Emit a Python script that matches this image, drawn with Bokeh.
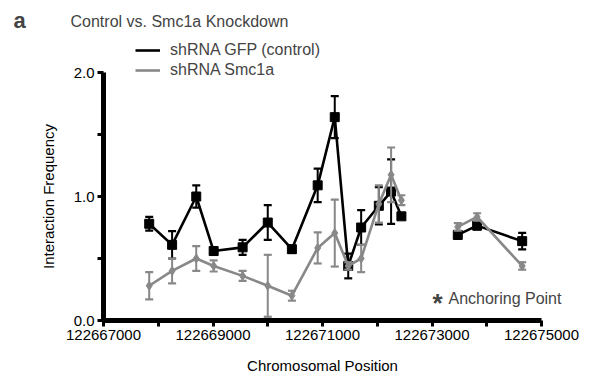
from bokeh.plotting import figure
from bokeh.models import Range1d, FixedTicker, Legend, LegendItem, Label
from bokeh.embed import file_html
from bokeh.resources import INLINE

# ---- data ----
positions = [122667835, 122668253, 122668694, 122669012, 122669541, 122670000,
             122670441, 122670912, 122671224, 122671470, 122671706, 122672029,
             122672253, 122672441, 122673471, 122673824, 122674647]
segment = [1, 1, 1, 1, 1, 1, 1, 1, 1, 1, 1, 1, 1, 1, 2, 2, 2]
gfp_mean = [0.78, 0.61, 1.00, 0.56, 0.59, 0.79, 0.575, 1.09, 1.64, 0.44,
            0.75, 0.925, 1.04, 0.84, 0.69, 0.765, 0.64]
gfp_err = [0.055, 0.11, 0.09, 0.03, 0.06, 0.14, 0.03, 0.135, 0.17, 0.10,
           0.14, 0.15, 0.26, 0.0, 0.03, 0.03, 0.067]
smc_mean = [0.28, 0.40, 0.50, 0.44, 0.36, 0.28, 0.20, 0.585, 0.705, 0.44,
            0.50, 0.94, 1.175, 0.97, 0.755, 0.835, 0.44]
smc_err = [0.11, 0.10, 0.10, 0.045, 0.04, 0.25, 0.04, 0.125, 0.27, 0.03,
           0.11, 0.15, 0.22, 0.04, 0.03, 0.03, 0.03]
anchor_position = [122672870]
anchor_value = [0.0]

x_ticks = [122667000, 122668000, 122669000, 122670000, 122671000,
           122672000, 122673000, 122674000, 122675000]
x_tick_labels = ["122667000", "", "122669000", "", "122671000", "",
                 "122673000", "", "122675000"]
y_ticks = [0.0, 0.5, 1.0, 1.5, 2.0]
y_tick_labels = ["0.0", "", "1.0", "", "2.0"]

FONT = "Liberation Sans"
BLACK = "#000000"
GRAY = "#888888"

# ---- layout: plot frame fills the canvas, axes are pinned inside it ----
W, H = 603, 378
AX_LEFT, AX_RIGHT, AX_TOP, AX_BOTTOM = 103, 541, 72, 320  # pixel box of the axes
x0, x1 = x_ticks[0], x_ticks[-1]
y0, y1 = y_ticks[0], y_ticks[-1]
sx = (AX_RIGHT - AX_LEFT) / (x1 - x0)
sy = (AX_BOTTOM - AX_TOP) / (y1 - y0)
xr = Range1d(x0 - AX_LEFT / sx, x1 + (W - AX_RIGHT) / sx)
yr = Range1d(y0 - (H - AX_BOTTOM) / sy, y1 + AX_TOP / sy)

p = figure(width=W, height=H, output_backend="svg", toolbar_location=None,
           x_range=xr, y_range=yr, min_border=0)
p.outline_line_color = None
p.xgrid.visible = False
p.ygrid.visible = False
p.background_fill_color = "white"


def draw_series(mean, err, color, marker, msize, lw):
    lo = [m - e for m, e in zip(mean, err)]
    hi = [m + e for m, e in zip(mean, err)]
    p.segment(positions, lo, positions, hi, line_color=color, line_width=2)
    p.scatter(positions, lo, marker="dash", size=8, line_color=color, line_width=2.2)
    p.scatter(positions, hi, marker="dash", size=8, line_color=color, line_width=2.2)
    rends = []
    for s in sorted(set(segment)):
        xs = [x for x, g in zip(positions, segment) if g == s]
        ys = [y for y, g in zip(mean, segment) if g == s]
        rends.append(p.line(xs, ys, line_color=color, line_width=lw))
    p.scatter(positions, mean, marker=marker, size=msize, fill_color=color,
              line_color=color)
    return rends[0]


l_gfp = draw_series(gfp_mean, gfp_err, BLACK, "square", 9, 2.6)
l_smc = draw_series(smc_mean, smc_err, GRAY, "diamond", 9, 2.6)
p.scatter(anchor_position, anchor_value, marker="square", size=4,
          fill_color=GRAY, line_color=GRAY)

# ---- axes ----
for ax in (p.xaxis[0], p.yaxis[0]):
    ax.axis_line_width = 5
    ax.axis_line_color = "black"
    ax.major_tick_line_width = 3
    ax.major_tick_out = 6
    ax.major_tick_in = 0
    ax.minor_tick_line_color = None
    ax.major_label_text_font = FONT
    ax.major_label_text_font_size = "15px"
    ax.major_label_text_color = "black"
    ax.axis_label_text_font = FONT
    ax.axis_label_text_font_size = "15px"
    ax.axis_label_text_font_style = "normal"
    ax.axis_label_text_color = "black"
    ax.major_label_standoff = 3

xa = p.xaxis[0]
xa.ticker = FixedTicker(ticks=x_ticks)
xa.major_label_overrides = {t: s for t, s in zip(x_ticks, x_tick_labels)}
xa.axis_label = "Chromosomal Position"
xa.axis_label_standoff = 14
xa.fixed_location = y0
xa.bounds = (x0, x1)

ya = p.yaxis[0]
ya.ticker = FixedTicker(ticks=y_ticks)
ya.major_label_overrides = {t: s for t, s in zip(y_ticks, y_tick_labels)}
ya.axis_label = "Interaction Frequency"
ya.axis_label_standoff = 14
ya.fixed_location = x0
ya.bounds = (y0, y1)

# ---- legend ----
legend = Legend(items=[LegendItem(label="shRNA GFP (control)", renderers=[l_gfp]),
                       LegendItem(label="shRNA Smc1a", renderers=[l_smc])],
                location=(135, 299), border_line_color=None, background_fill_alpha=0,
                padding=0, margin=0, spacing=2, glyph_width=25, glyph_height=16,
                label_height=16, label_standoff=10,
                label_text_font=FONT, label_text_font_size="16px")
p.add_layout(legend, "center")

# ---- texts (screen units, measured from the bottom-left of the canvas) ----
p.add_layout(Label(x=13, y=358, x_units="screen", y_units="screen", text="a",
                   text_font=FONT, text_font_size="22px", text_font_style="bold",
                   text_baseline="middle"))
p.add_layout(Label(x=70, y=357, x_units="screen", y_units="screen",
                   text="Control vs. Smc1a Knockdown", text_font=FONT,
                   text_font_size="16px", text_baseline="middle"))
p.add_layout(Label(x=432, y=76, x_units="screen", y_units="screen", text="*",
                   text_font=FONT, text_font_size="26px", text_font_style="bold",
                   text_baseline="middle"))
p.add_layout(Label(x=448, y=80, x_units="screen", y_units="screen",
                   text="Anchoring Point", text_font=FONT,
                   text_font_size="16px", text_baseline="middle"))

open("out.html", "w").write(file_html(p, INLINE))
